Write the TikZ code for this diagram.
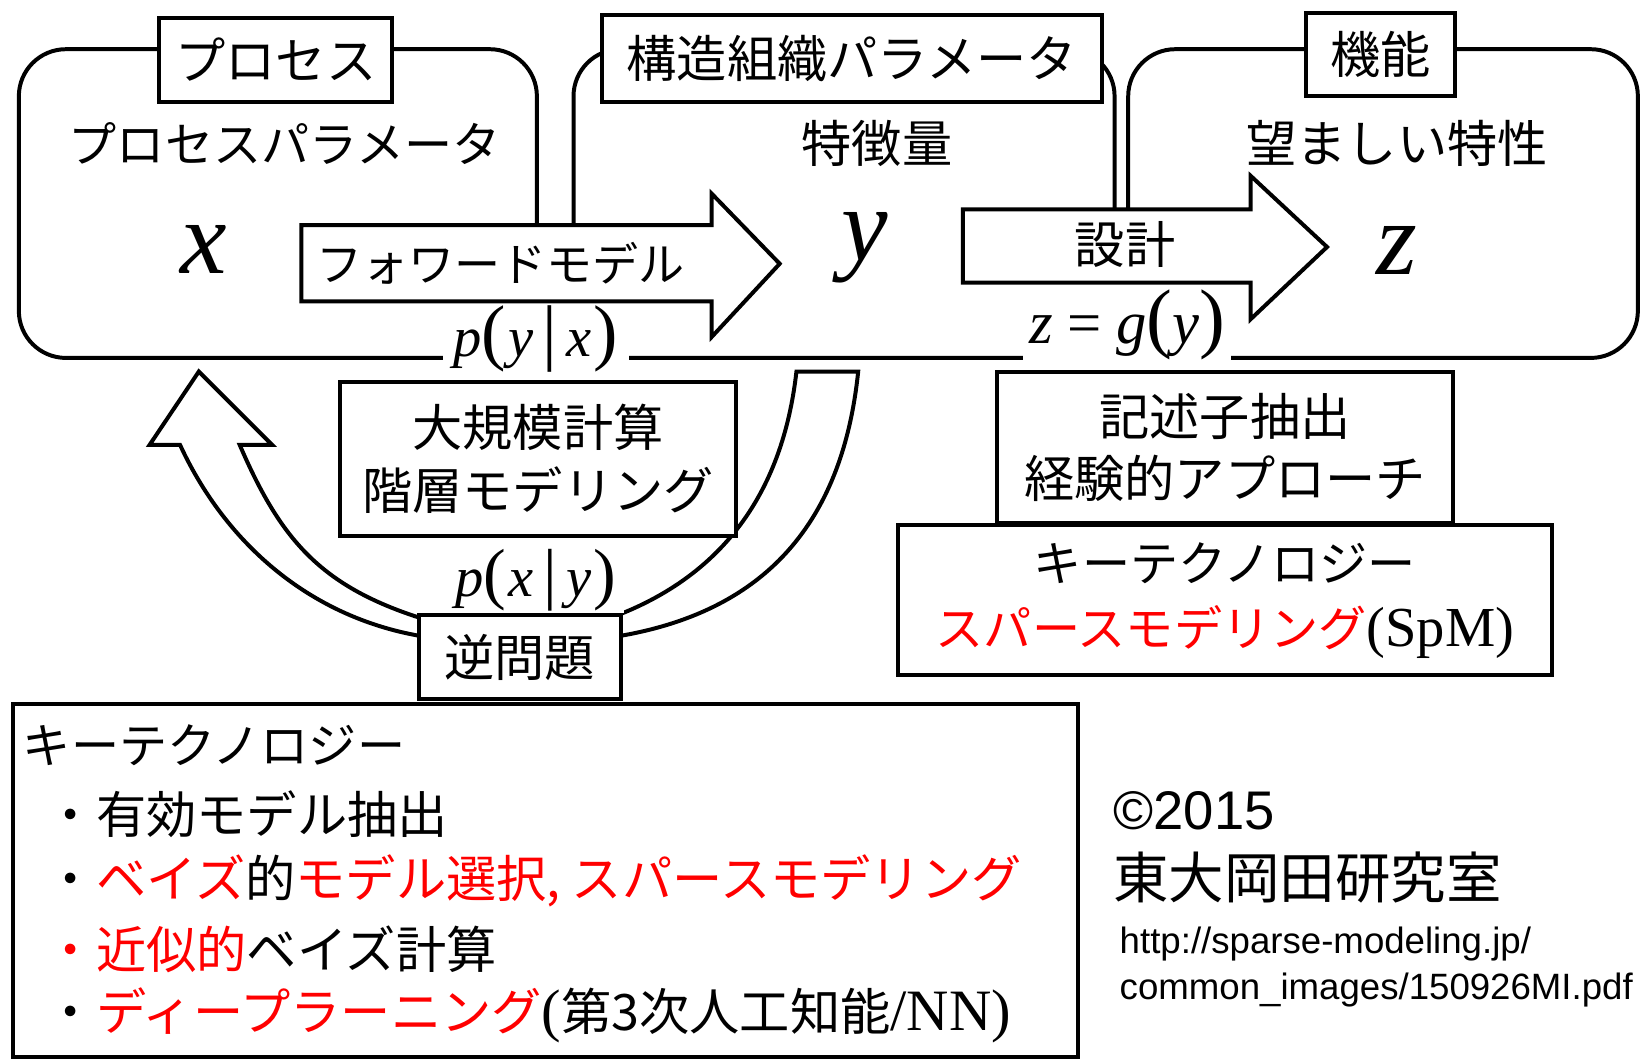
\documentclass[tikz,border=0pt]{standalone}
\usepackage{fontspec}
\setmainfont{Liberation Serif}
\newfontfamily\jp{Noto Sans CJK JP}
\newfontfamily\arl{Liberation Sans}
\newcommand\bigp[2][70]{{\fontsize{#1}{#1}\selectfont #2}}
\begin{document}
\begin{tikzpicture}[x=1pt,y=-1pt,line width=3.8pt,
  framebox/.style={draw, rounded corners=45pt, inner sep=0pt},
  tagbox/.style={draw, fill=white, inner sep=0pt, font={\jp\fontsize{48}{58}\selectfont}},
  jpt/.style={inner sep=0pt, font={\jp\fontsize{48}{60}\selectfont}},
  listl/.style={inner sep=0pt, anchor=west, font={\jp\fontsize{48}{60}\selectfont}},
  varnode/.style={inner sep=0pt, anchor=base, font={\fontsize{100}{100}\selectfont\itshape}},
  eqnode/.style={anchor=base, fill=white, font={\fontsize{54}{54}\selectfont}},
  blk/.style={draw, fill=white, line join=miter},
  bigbox/.style={draw, fill=white, inner sep=0pt, align=center},
]
\useasboundingbox (0,0) rectangle (1568,1013);

% three frames
\node[framebox, minimum width=495pt, minimum height=295pt] (f1) at (265.5,194.5) {};
\node[framebox, minimum width=517pt, minimum height=295pt] (f2) at (806.5,194.5) {};
\node[framebox, minimum width=487pt, minimum height=295pt] (f3) at (1321.5,194.5) {};

% tags
\node[tagbox, minimum width=223pt, minimum height=80pt] (g1) at (263.5,57) {プロセス};
\node[tagbox, minimum width=478pt, minimum height=83pt] (g2) at (814,55.5) {構造組織パラメータ};
\node[tagbox, minimum width=142pt, minimum height=80pt] (g3) at (1319,52) {機能};

% headings
\node[jpt, font={\jp\fontsize{46}{60}\selectfont}] (h1) at (272,137) {プロセスパラメータ};
\node[jpt] (h2) at (838,137) {特徴量};
\node[jpt] (h3) at (1335,137) {望ましい特性};

% variables
\node[varnode] (vx) at (195,261) {x};
\node[varnode] (vy) at (826,249) {y};
\node[varnode] (vz) at (1335,262) {z};

% equation labels on the frame bottom
\node[eqnode, inner xsep=10pt, inner ysep=4pt] (pyx) at (512,341)
  {\textit{p}\bigp{(}\hspace{2pt}\textit{y}\hspace{9pt}\bigp{|}\hspace{9pt}\textit{x}\hspace{2pt}\bigp{)}};
\node[eqnode, inner xsep=6pt, inner ysep=6pt, font={\fontsize{58}{58}\selectfont}] (zgy) at (1077,328)
  {\textit{z}\hspace{14pt}=\hspace{14pt}\textit{g}\bigp[74]{(}\textit{y}\bigp[74]{)}};

% block arrows
\draw[blk] (288,215) -- (680,215) -- (680,185) -- (745,252) -- (680,322) -- (680,288) -- (288,288) -- cycle;
\node[jpt, font={\jp\fontsize{44}{60}\selectfont}] (fwd) at (478,252) {フォワードモデル};
\draw[blk] (920,200) -- (1195,200) -- (1195,168) -- (1268,236) -- (1195,305) -- (1195,270) -- (920,270) -- cycle;
\node[jpt] (dsg) at (1075,234) {設計};

% curved inverse arrow
\draw[blk] (820,355) .. controls (805,500) and (730,595) .. (560,612) -- (440,612)
  .. controls (310,605) and (218,525) .. (172,425) -- (143,425) -- (190,355) -- (260,425) -- (229,425)
  .. controls (270,520) and (310,565) .. (420,596) -- (560,598)
  .. controls (690,560) and (748,470) .. (761,355) -- cycle;

% boxes
\node[bigbox, minimum width=378pt, minimum height=147pt, font={\jp\fontsize{48}{60}\selectfont}] (calc) at (514,438.5) {大規模計算\\階層モデリング};
\node[eqnode, inner xsep=8pt, inner ysep=2pt] (pxy) at (512,570)
  {\textit{p}\bigp[65]{(}\hspace{2pt}\textit{x}\hspace{9pt}\bigp[65]{|}\hspace{9pt}\textit{y}\hspace{2pt}\bigp[65]{)}};
\node[tagbox, minimum width=193pt, minimum height=80pt] (inv) at (496.5,628) {逆問題};

\node[bigbox, minimum width=435pt, minimum height=145pt, font={\jp\fontsize{48}{60}\selectfont}] (desc) at (1170.5,427.5) {記述子抽出\\経験的アプローチ};
\node[bigbox, minimum width=625pt, minimum height=143pt, font={\jp\fontsize{46}{62}\selectfont}] (spm) at (1170.5,573.5) {キーテクノロジー\\\textcolor{red}{スパースモデリング}{\rmfamily\fontsize{54}{62}\selectfont (SpM)}};

% bottom box
\node[draw, inner sep=0pt, minimum width=1018pt, minimum height=337pt] (kt) at (521,841.5) {};
\node[listl, font={\jp\fontsize{46}{60}\selectfont}] (k0) at (20,712) {キーテクノロジー};
\node[listl] (k1) at (42,778) {・有効モデル抽出};
\node[listl] (k2) at (42,842) {・\textcolor{red}{ベイズ}的\textcolor{red}{モデル選択, スパースモデリング}};
\node[listl] (k3) at (42,907) {\textcolor{red}{・近似的}ベイズ計算};
\node[listl] (k4) at (42,970) {・\textcolor{red}{ディープラーニング}{\rmfamily\fontsize{56}{60}\selectfont(}第3次人工知能{\rmfamily\fontsize{56}{60}\selectfont /NN)}};

% credits
\node[inner sep=0pt, anchor=base west, font={\arl\fontsize{52}{52}\selectfont}] (cp) at (1062,793) {©2015};
\node[inner sep=0pt, anchor=west, font={\jp\fontsize{53}{53}\selectfont}] (lab) at (1062,838) {東大岡田研究室};
\node[inner sep=0pt, anchor=base west, font={\arl\fontsize{35}{35}\selectfont}] (u1) at (1068,911) {http://sparse-modeling.jp/};
\node[inner sep=0pt, anchor=base west, font={\arl\fontsize{35}{35}\selectfont}] (u2) at (1068,955) {common\_images/150926MI.pdf};
\end{tikzpicture}
\end{document}
